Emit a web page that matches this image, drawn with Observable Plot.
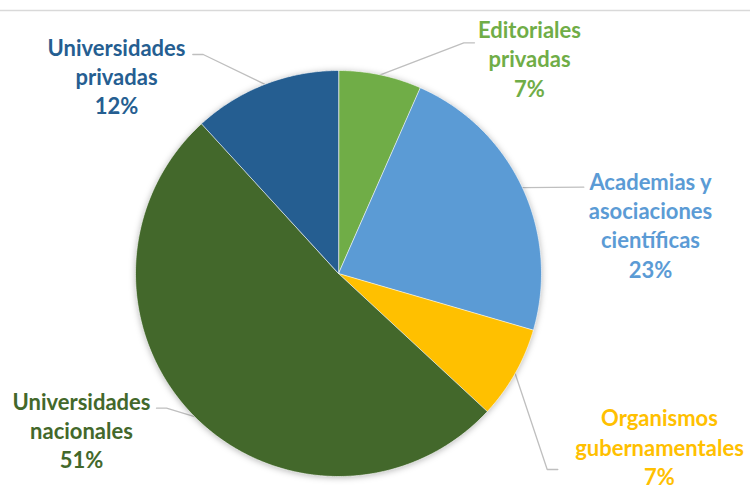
<!DOCTYPE html>
<html>
<head>
<meta charset="utf-8">
<script src="https://cdn.jsdelivr.net/npm/d3@7"></script>
<script src="https://cdn.jsdelivr.net/npm/@observablehq/plot@0.6"></script>
<style>
  html, body { margin: 0; padding: 0; background: #fff; }
</style>
</head>
<body>
<div id="chart"></div>
<script>
// ---- data ----
const categories = [
  "Editoriales privadas",
  "Academias y asociaciones científicas",
  "Organismos gubernamentales",
  "Universidades nacionales",
  "Universidades privadas"
];
const shares = [6.6, 22.9, 7.4, 51.3, 11.8];
const pctLabels = ["7%", "23%", "7%", "51%", "12%"];
const labelLines = [
  ["Editoriales", "privadas"],
  ["Academias y", "asociaciones", "científicas"],
  ["Organismos", "gubernamentales"],
  ["Universidades", "nacionales"],
  ["Universidades", "privadas"]
];
const colors = ["#70AD47", "#5B9BD5", "#FFC000", "#43682B", "#255E91"];

// ---- layout (pixel offsets from pie centre, y up) ----
const R = 203;
const labelPos = [[191, 236.3], [312, 84.7], [321, -152], [-257, -135.3], [-222, 218.7]];
const leaderElbow = [[125.3, 230.7], null, [208.7, -196], [-172, -134.7], [-135.3, 219]];
const leaderEnd = [[136, 230.7], [245.3, 86.3], [219.3, -196], [-182, -134.7], [-145.7, 219]];

// ---- build slices ----
const total = d3.sum(shares);
let acc = 0;
const arcs = shares.map((v, i) => {
  const a0 = acc / total * 2 * Math.PI;
  acc += v;
  const a1 = acc / total * 2 * Math.PI;
  return {name: categories[i], a0, a1, mid: (a0 + a1) / 2};
});
const piePts = [];
arcs.forEach(a => {
  piePts.push({name: a.name, x: 0, y: 0});
  const n = Math.ceil((a.a1 - a.a0) / (Math.PI / 360)) + 1;
  for (let k = 0; k <= n; k++) {
    const t = a.a0 + (a.a1 - a.a0) * k / n;
    piePts.push({name: a.name, x: R * Math.sin(t), y: R * Math.cos(t)});
  }
});
const leaderPts = [];
arcs.forEach((a, i) => {
  leaderPts.push({name: a.name, x: R * Math.sin(a.mid), y: R * Math.cos(a.mid)});
  if (leaderElbow[i]) leaderPts.push({name: a.name, x: leaderElbow[i][0], y: leaderElbow[i][1]});
  leaderPts.push({name: a.name, x: leaderEnd[i][0], y: leaderEnd[i][1]});
});
const labels = arcs.map((a, i) => ({
  name: a.name,
  x: labelPos[i][0],
  y: labelPos[i][1],
  text: [...labelLines[i], pctLabels[i]].join("\n")
}));

const FS = 22;
const plot = Plot.plot({
  width: 750,
  height: 486,
  marginTop: 10, marginLeft: 0, marginRight: 0, marginBottom: 0,
  style: {fontFamily: "Lato, 'Open Sans', sans-serif", background: "#fff"},
  x: {domain: [-338, 412], range: [0, 750], axis: null},
  y: {domain: [-213, 273], range: [486, 0], axis: null},
  color: {domain: categories, range: colors},
  marks: [
    Plot.frame({anchor: "top", stroke: "#d9d9d9", strokeWidth: 1.5}),
    Plot.line(leaderPts, {x: "x", y: "y", z: "name", stroke: "#bfbfbf", strokeWidth: 1.3}),
    Plot.line(piePts, {x: "x", y: "y", z: "name", fill: "name", stroke: "#ffffff", strokeWidth: 0.6, curve: "linear-closed"}),
    Plot.text(labels, {
      x: "x", y: "y", text: "text", fill: "name",
      fontSize: FS, fontWeight: "bold", textAnchor: "middle",
      lineAnchor: "top", lineHeight: 29.4 / FS, dy: -0.71 * FS - 4.5
    })
  ]
});
document.getElementById("chart").appendChild(plot);
const groups = plot.querySelectorAll('g[aria-label="line"]');
if (groups[1]) groups[1].style.filter = "drop-shadow(0px 1px 3px rgba(0,0,0,0.28))";
</script>
</body>
</html>
